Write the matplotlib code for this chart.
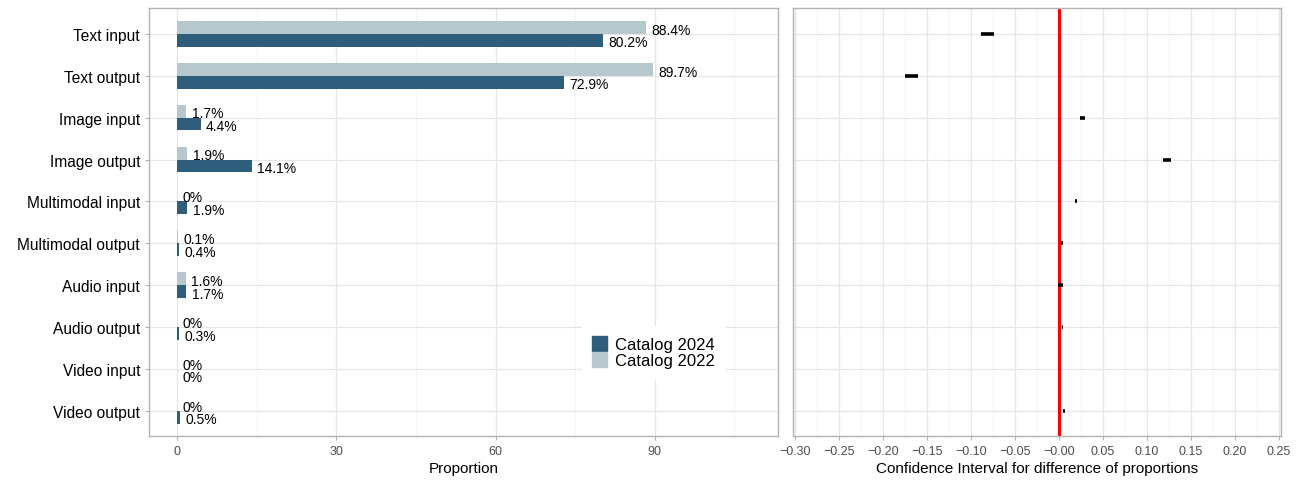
import numpy as np
import matplotlib.pyplot as plt
from matplotlib.patches import Patch

plt.rcParams['font.family'] = ['Liberation Sans', 'DejaVu Sans']
plt.rcParams['axes.unicode_minus'] = True

# Modality shares per catalog (percent)
categories = ['Text input', 'Text output', 'Image input', 'Image output',
              'Multimodal input', 'Multimodal output', 'Audio input',
              'Audio output', 'Video input', 'Video output']
catalog_2022 = [88.4, 89.7, 1.7, 1.9, 0.0, 0.1, 1.6, 0.0, 0.0, 0.0]
catalog_2024 = [80.2, 72.9, 4.4, 14.1, 1.9, 0.4, 1.7, 0.3, 0.0, 0.5]

# Confidence interval bounds for difference of proportions (2024 - 2022)
ci_low = [-0.089, -0.175, 0.024, 0.1186, 0.0185, 0.002, -0.001, 0.003, 0.0, 0.0045]
ci_high = [-0.074, -0.160, 0.030, 0.1273, 0.0205, 0.004, 0.0045, 0.004, 0.0, 0.0065]

dark = '#2f5d7c'
light = '#b7c7ce'
border = '#b3b3b3'
grid_major = '#e6e6e6'
grid_minor = '#f3f3f3'

fig = plt.figure(figsize=(13.04, 4.81), dpi=100)
ax1 = fig.add_axes([0.1143, 0.0915, 0.4823, 0.8898])
ax2 = fig.add_axes([0.6081, 0.0915, 0.3743, 0.8898])

y = np.arange(len(categories))
h = 0.305

def style(ax):
    for s in ax.spines.values():
        s.set_color(border)
        s.set_linewidth(1.0)
    ax.grid(which='major', color=grid_major, linewidth=0.9)
    ax.grid(which='minor', axis='x', color=grid_minor, linewidth=0.6)
    ax.set_axisbelow(True)
    ax.tick_params(axis='both', which='major', color=border, length=3,
                   width=0.8, labelcolor='#4d4d4d', labelsize=9)
    ax.tick_params(which='minor', length=0)
    ax.set_ylim(len(categories) - 0.4, -0.62)
    ax.set_yticks(y)

# Left panel: grouped horizontal bars
style(ax1)
ax1.barh(y - h / 2, catalog_2022, height=h, color=light, zorder=2)
ax1.barh(y + h / 2, catalog_2024, height=h, color=dark, zorder=2)
for yi, v in zip(y, catalog_2022):
    ax1.text(v + 1.0, yi - h / 2 + 0.05, f'{v:g}%', va='center', ha='left', fontsize=10)
for yi, v in zip(y, catalog_2024):
    ax1.text(v + 1.0, yi + h / 2 + 0.05, f'{v:g}%', va='center', ha='left', fontsize=10)
ax1.set_xlim(-5.3, 113.2)
ax1.set_xticks([0, 30, 60, 90])
ax1.set_xticks([15, 45, 75, 105], minor=True)
ax1.set_yticklabels(categories, fontsize=11.2, color='black')
ax1.set_xlabel('Proportion', fontsize=11, labelpad=3)

handles = [Patch(color=dark, label='Catalog 2024'), Patch(color=light, label='Catalog 2022')]
ax1.legend(handles=handles, loc='lower left', bbox_to_anchor=(0.675, 0.115),
           frameon=True, framealpha=1, edgecolor='white', fancybox=False,
           fontsize=12, handlelength=0.9, handleheight=1.0, handletextpad=0.5,
           labelspacing=0.0, borderpad=0.6)

# Right panel: confidence intervals
style(ax2)
ax2.hlines(y, ci_low, ci_high, color='black', linewidth=2.6, zorder=3)
ax2.axvline(0, color='#ff0000', linewidth=2.2, zorder=2)
ax2.set_xlim(-0.3025, 0.2523)
ticks = np.round(np.arange(-0.30, 0.251, 0.05), 2)
ax2.set_xticks(ticks)
ax2.set_xticks(np.arange(-0.275, 0.251, 0.05), minor=True)
ax2.set_xticklabels([f'{t:.2f}'.replace('-', '\u2212') for t in ticks])
ax2.set_yticklabels([])
ax2.tick_params(axis='y', length=0)
ax2.set_xlabel('Confidence Interval for difference of proportions', fontsize=11, labelpad=3)

fig.savefig('out.png', dpi=100)
